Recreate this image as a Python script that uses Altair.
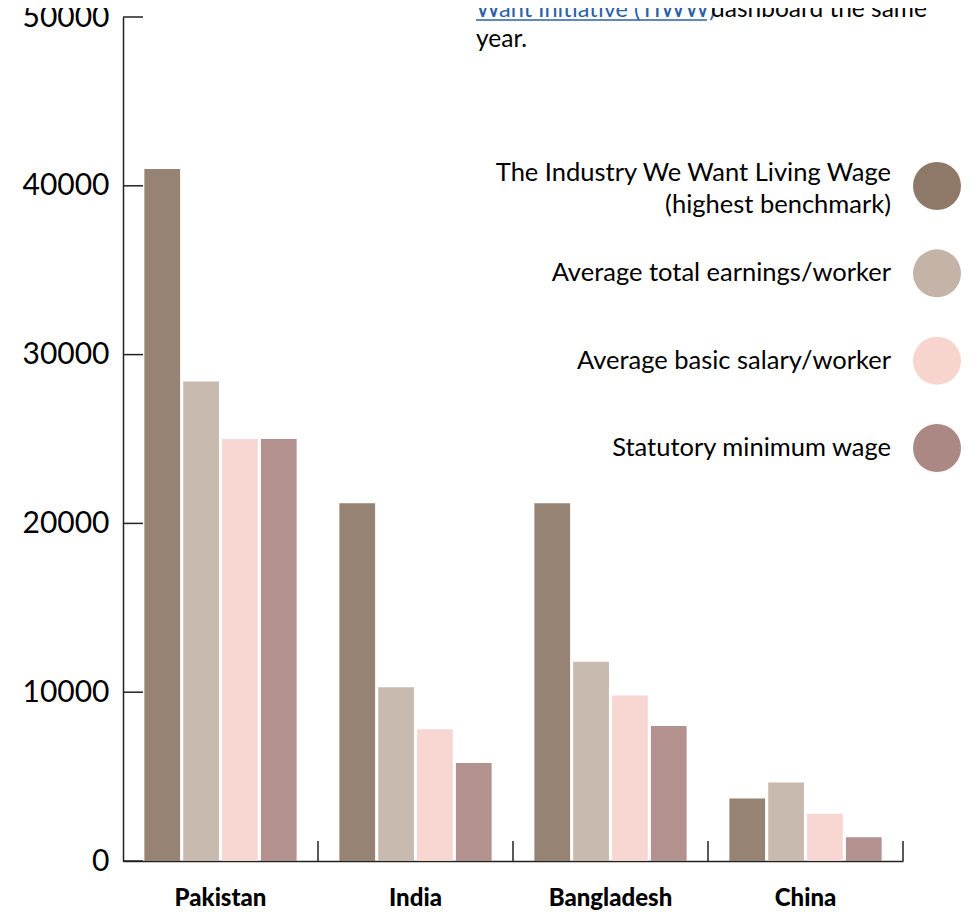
import altair as alt
import pandas as pd

countries = ["Pakistan", "India", "Bangladesh", "China"]
series = [
    "The Industry We Want Living Wage (highest benchmark)",
    "Average total earnings/worker",
    "Average basic salary/worker",
    "Statutory minimum wage",
]
legend_labels = [
    "The Industry We Want Living Wage\n(highest benchmark)",
    "Average total earnings/worker",
    "Average basic salary/worker",
    "Statutory minimum wage",
]
living_wage = [41000, 21200, 21200, 3700]
total_earnings = [28400, 10300, 11800, 4650]
basic_salary = [25000, 7800, 9800, 2800]
minimum_wage = [25000, 5800, 8000, 1400]
colors = ["#8e7868", "#c4b4a8", "#f7d4ce", "#ac8884"]
y_ticks = [0, 10000, 20000, 30000, 40000, 50000]

rows = []
for i, c in enumerate(countries):
    for s, vals in zip(series, [living_wage, total_earnings, basic_salary, minimum_wage]):
        rows.append({"country": c, "series": s, "value": vals[i]})
df = pd.DataFrame(rows)
legend_df = pd.DataFrame({"series": series, "label": legend_labels})

FONT = "Lato"
W, H = 780, 844
color_scale = alt.Scale(domain=series, range=colors)

x_enc = alt.X(
    "country:N",
    sort=countries,
    scale=alt.Scale(paddingInner=0, paddingOuter=0),
    axis=alt.Axis(
        title=None, ticks=False, labelAngle=0, labelFont=FONT, labelFontSize=24,
        labelFontWeight=900, labelColor="#000", labelPadding=25,
        domainColor="#222", domainWidth=1.5,
    ),
)
y_scale = alt.Scale(domain=[0, 50000], nice=False)
y_axis = alt.Axis(title=None, values=y_ticks, ticks=False, grid=False, format="d",
                  labelFont=FONT, labelFontSize=30, labelColor="#000",
                  labelPadding=14, domainColor="#222", domainWidth=1.5)

bars = alt.Chart(df).mark_bar(opacity=0.92).encode(
    x=x_enc,
    xOffset=alt.XOffset("series:N", sort=series,
                        scale=alt.Scale(paddingInner=0.08, paddingOuter=0.55)),
    y=alt.Y("value:Q", scale=y_scale, axis=y_axis),
    color=alt.Color("series:N", sort=series, scale=color_scale, legend=None),
)

xticks = alt.Chart(pd.DataFrame({"country": countries})).mark_rule(
    color="#222", strokeWidth=1.5
).encode(
    x=alt.X("country:N", sort=countries, bandPosition=1),
    y=alt.value(H - 20),
    y2=alt.value(H),
)

yticks = alt.Chart(pd.DataFrame({"value": y_ticks})).mark_rule(
    color="#222", strokeWidth=1.5
).encode(
    y=alt.Y("value:Q", scale=y_scale, axis=y_axis),
    x=alt.value(0),
    x2=alt.value(20),
)

main = alt.layer(bars, xticks, yticks)

leg_y = alt.Y("series:N", sort=series,
              scale=alt.Scale(type="point", domain=series, range=[169, 431], padding=0),
              axis=None)
leg_circles = alt.Chart(legend_df).mark_circle(size=2304, opacity=1).encode(
    x=alt.value(814),
    y=leg_y,
    color=alt.Color("series:N", sort=series, scale=color_scale, legend=None),
)
leg_text_first = alt.Chart(legend_df).transform_filter(
    alt.datum.series == series[0]
).mark_text(
    font=FONT, fontSize=25.5, align="right", baseline="middle",
    lineBreak="\n", lineHeight=32, color="#000", dy=-13,
).encode(x=alt.value(768), y=leg_y, text="label:N")
leg_text_rest = alt.Chart(legend_df).transform_filter(
    alt.datum.series != series[0]
).mark_text(
    font=FONT, fontSize=25.5, align="right", baseline="middle", color="#000",
).encode(x=alt.value(768), y=leg_y, text="label:N")
legend_layer = alt.layer(leg_circles, leg_text_first, leg_text_rest)

note_link = pd.DataFrame({"t": ["Want Initiative (TIWW)"], "px": [353], "py": [0]})
note_rest = pd.DataFrame({"t": ["dashboard the same", "year."], "px": [588, 353], "py": [0, 30]})
link_text = alt.Chart(note_link).mark_text(
    font=FONT, fontSize=23.5, align="left", baseline="alphabetic", color="#2c5fa8"
).encode(x=alt.X("px:Q", scale=None), y=alt.Y("py:Q", scale=None), text="t:N")
rest_text = alt.Chart(note_rest).mark_text(
    font=FONT, fontSize=24.5, align="left", baseline="alphabetic", color="#000"
).encode(x=alt.X("px:Q", scale=None), y=alt.Y("py:Q", scale=None), text="t:N")
underline = alt.Chart(pd.DataFrame({"a": [353], "b": [584], "c": [3]})).mark_rule(
    color="#2c5fa8", strokeWidth=1.5
).encode(
    x=alt.X("a:Q", scale=None), x2="b:Q", y=alt.Y("c:Q", scale=None)
)

chart = alt.layer(main, legend_layer, link_text, rest_text, underline).resolve_scale(
    y="independent"
).properties(
    width=W, height=H,
    autosize=alt.AutoSizeParams(type="none"),
    padding={"left": 115, "top": 9, "right": 59, "bottom": 51},
).configure(font=FONT).configure_view(strokeWidth=0, stroke="transparent")

chart.save("out.html", embed_options={"renderer": "svg", "actions": False})
